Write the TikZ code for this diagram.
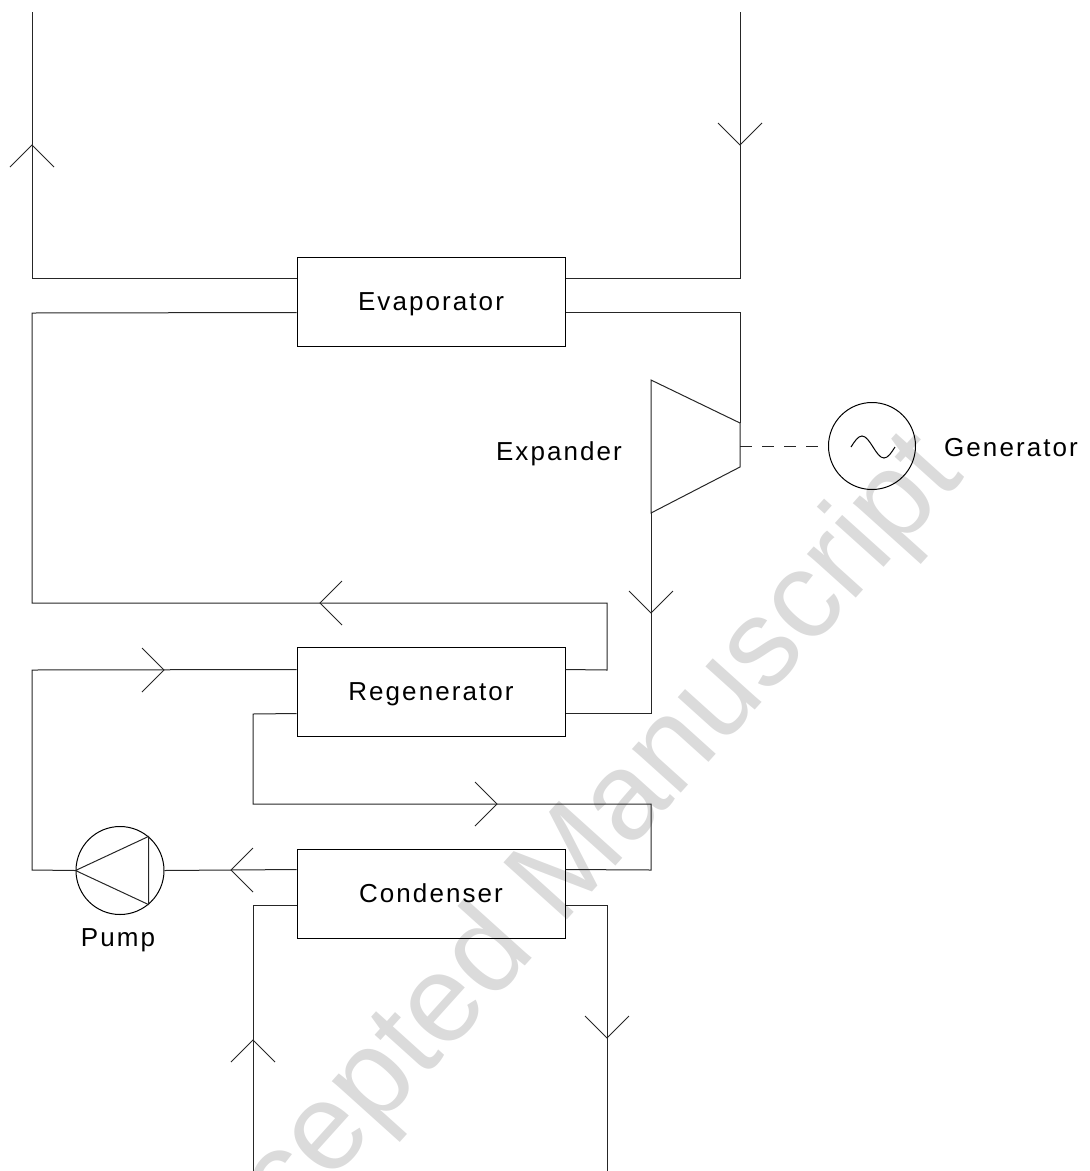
\documentclass[tikz,border=0pt]{standalone}
\usepackage{fontspec}
\setmainfont{Liberation Sans}
\newfontfamily\lblfont[LetterSpace=8]{Liberation Sans}
\newfontfamily\wmfont{Liberation Sans}
\usetikzlibrary{calc}
\begin{document}
\begin{tikzpicture}[x=1pt,y=-1pt,
  pipe/.style={line width=1pt, draw=black!85},
  box/.style={draw=black, line width=1pt, minimum width=268pt, minimum height=89pt, inner sep=0pt,
    font=\lblfont\fontsize{26}{30}\selectfont, text height=18.6pt, text depth=0pt},
  lbl/.style={inner sep=0pt, font=\lblfont\fontsize{26}{30}\selectfont, text height=18.6pt, text depth=0pt},
  chevR/.pic={\draw[pipe] (-22,-22) -- (0,0) -- (-22,22);},
  chevL/.pic={\draw[pipe] (22,-22) -- (0,0) -- (22,22);},
  chevU/.pic={\draw[pipe] (-22,22) -- (0,0) -- (22,22);},
  chevD/.pic={\draw[pipe] (-22,-22) -- (0,0) -- (22,-22);},
]
\useasboundingbox (0,0) rectangle (1090,1171);
% watermark
\node[text=black!14, font=\wmfont\fontsize{124}{124}\selectfont, rotate=48, inner sep=0pt] (wm) at (555,885) {Accepted Manuscript};

% components
\node[box] (evap) at (431,301.5) {Evaporator};
\node[box] (regen) at (431,691.5) {Regenerator};
\node[box] (cond) at (431,893.5) {Condenser};
\node[circle, draw=black, line width=1pt, minimum size=87pt, inner sep=0pt] (gen) at (872,446) {};
\node[circle, draw=black, line width=1pt, minimum size=88pt, inner sep=0pt] (pump) at (120,870.5) {};

\coordinate (ex1) at (651,380);
\coordinate (ex2) at (740,423);
\coordinate (ex3) at (740,467);
\coordinate (ex4) at (651,513);
\coordinate (exs) at (740,446);
\draw[pipe] (ex1) -- (ex2) -- (ex3) -- (ex4) -- cycle;
\draw[pipe] (pump.west) -- (pump.50) -- (pump.-50) -- cycle;
\draw[line width=1pt] (851,447) sin (862,436) cos (873,447) sin (884,458) cos (895,447);

% labels
\node[lbl] (lexp) at (559,451) {Expander};
\node[lbl] (lgen) at (1011,447.5) {Generator};
\node[lbl] (lpump) at (118,937.5) {Pump};

% port coordinates
\coordinate (eL1) at ([yshift=-22pt]evap.north west);
\coordinate (eR1) at ([yshift=-22pt]evap.north east);
\coordinate (eL2) at ([yshift=-56pt]evap.north west);
\coordinate (eR2) at ([yshift=-56pt]evap.north east);
\coordinate (rL1) at ([yshift=-23pt]regen.north west);
\coordinate (rR1) at ([yshift=-23pt]regen.north east);
\coordinate (rL2) at ([yshift=-67pt]regen.north west);
\coordinate (rR2) at ([yshift=-67pt]regen.north east);
\coordinate (cL1) at ([yshift=-21pt]cond.north west);
\coordinate (cR1) at ([yshift=-21pt]cond.north east);
\coordinate (cL2) at ([yshift=-57pt]cond.north west);
\coordinate (cR2) at ([yshift=-57pt]cond.north east);
\coordinate (hotout) at (32,12);
\coordinate (hotin) at (740,12);
\coordinate (cwin) at (253,1171);
\coordinate (cwout) at (607,1171);

% heat source
\draw[pipe] (eL1) -- (hotout |- eL1) -- (hotout);
\draw[pipe] (hotin) -- (hotin |- eR1) -- (eR1);
\pic at (32,145) {chevU};
\pic at (740,145) {chevD};

% working fluid loop
\draw[pipe] (eR2) -- (ex2 |- eR2) -- (ex2);
\draw[pipe] (ex4) -- (ex4 |- rR2) -- (rR2);
\pic at (651,613) {chevD};
\draw[pipe] (rR1) -- (607,670) -- (607,603) -- (32,603) -- (32,313) -- (eL2);
\pic at (320,603) {chevL};
\draw[pipe] (rL2) -- (253,714) -- (253,804) -- (651,804) -- (651,870) -- (cR1);
\pic at (497,804) {chevR};
\draw[pipe] (cL1) -- (pump.east);
\pic at (231,870) {chevL};
\draw[pipe] (pump.west) -- (32,870) -- (32,670) -- (rL1);
\pic at (164,670) {chevR};
\draw[pipe, dash pattern=on 12pt off 10pt] (exs) -- (gen.west);

% cooling water
\draw[pipe] (cwin) -- (cwin |- cL2) -- (cL2);
\draw[pipe] (cR2) -- (cwout |- cR2) -- (cwout);
\pic at (253,1040) {chevU};
\pic at (607,1038) {chevD};
\end{tikzpicture}
\end{document}
